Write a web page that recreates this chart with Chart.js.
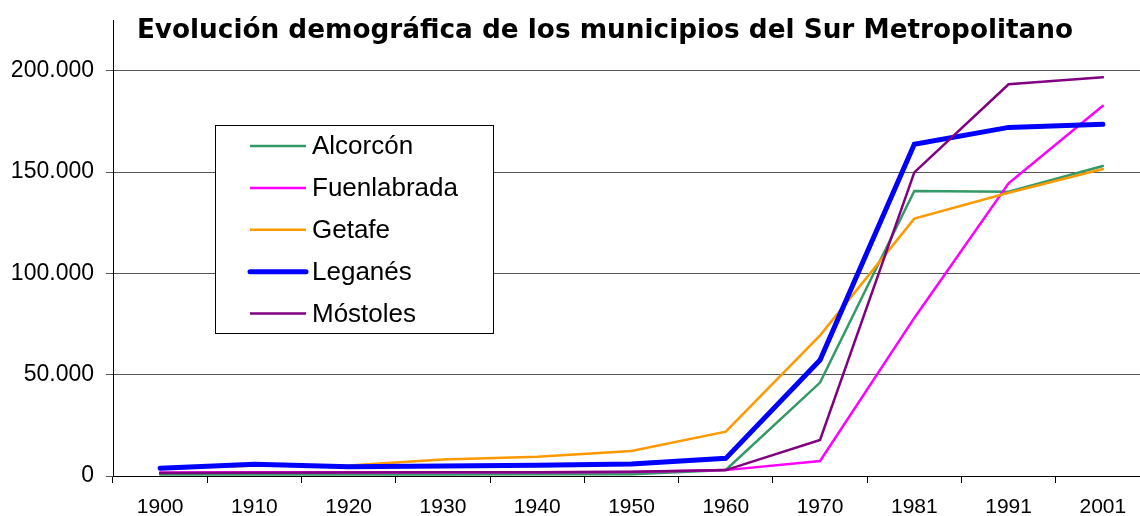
<!DOCTYPE html>
<html>
<head>
<meta charset="utf-8">
<script src="https://cdn.jsdelivr.net/npm/chart.js@4/dist/chart.umd.min.js"></script>
<style>
  html, body { margin: 0; padding: 0; background: #fff; overflow: hidden; }
  canvas { display: block; }
</style>
</head>
<body>
<canvas id="myChart" width="1150" height="516"></canvas>
<script>
const chartTitle = 'Evolución demográfica de los municipios del Sur Metropolitano';
const years = ['1900', '1910', '1920', '1930', '1940', '1950', '1960', '1970', '1981', '1991', '2001'];

const alcorcon    = [700, 750, 800, 800, 850, 900, 3000, 46100, 140600, 140300, 153000];
const fuenlabrada = [1700, 1800, 1800, 1900, 1900, 2000, 2900, 7400, 78000, 144400, 182700];
const getafe      = [3800, 5000, 5200, 8200, 9500, 12300, 21900, 69400, 127000, 139800, 151500];
const leganes     = [3800, 5800, 4600, 4900, 5300, 5900, 8700, 57200, 163700, 172000, 173500];
const mostoles    = [1500, 1600, 1700, 1800, 1800, 2100, 2900, 17800, 149800, 193300, 196700];

const yTicks = [0, 50000, 100000, 150000, 200000];
const yMax = 225000;

function fmt(v) {
    return String(v).replace(/\B(?=(\d{3})+(?!\d))/g, '.');
}

// title is drawn over the plot area, like the original
const titlePlugin = {
    id: 'overTitle',
    afterDraw(chart) {
        const ctx = chart.ctx;
        ctx.save();
        ctx.font = 'bold 26.3px "DejaVu Sans"';
        ctx.fillStyle = '#000';
        ctx.textAlign = 'center';
        ctx.textBaseline = 'alphabetic';
        ctx.fillText(chartTitle, 605, 38);
        ctx.restore();
    }
};

// boxed legend inside the plot area
const boxLegend = {
    id: 'boxLegend',
    afterDraw(chart) {
        const ctx = chart.ctx;
        const a = chart.chartArea;
        const x = a.left + 102, y = a.top + 105, w = 278, h = 208;
        ctx.save();
        ctx.fillStyle = '#fff';
        ctx.fillRect(x, y, w, h);
        ctx.strokeStyle = '#000';
        ctx.lineWidth = 1;
        ctx.strokeRect(x + 0.5, y + 0.5, w, h);
        ctx.font = '26px "Liberation Sans"';
        ctx.textBaseline = 'middle';
        ctx.fillStyle = '#000';
        chart.data.datasets.forEach((ds, i) => {
            const cy = y + 21 + i * 41.9;
            ctx.strokeStyle = ds.borderColor;
            ctx.lineWidth = ds.borderWidth;
            ctx.lineCap = ds.borderWidth > 3 ? 'round' : 'butt';
            ctx.beginPath();
            ctx.moveTo(x + 35, cy);
            ctx.lineTo(x + 91, cy);
            ctx.stroke();
            ctx.fillText(ds.label, x + 97, cy + 1);
        });
        ctx.restore();
    }
};

const ctx = document.getElementById('myChart').getContext('2d');
const myChart = new Chart(ctx, {
    type: 'line',
    data: {
        labels: years,
        datasets: [
            { label: 'Alcorcón', data: alcorcon, borderColor: '#339966', borderWidth: 2.5, order: 4 },
            { label: 'Fuenlabrada', data: fuenlabrada, borderColor: '#FF00FF', borderWidth: 2.5, order: 3 },
            { label: 'Getafe', data: getafe, borderColor: '#FF9900', borderWidth: 2.5, order: 2 },
            { label: 'Leganés', data: leganes, borderColor: '#0000FF', borderWidth: 5, order: 1 },
            { label: 'Móstoles', data: mostoles, borderColor: '#800080', borderWidth: 2.5, order: 0 }
        ]
    },
    options: {
        responsive: false,
        animation: false,
        layout: { padding: { top: 20, left: 0, right: 0, bottom: 0 } },
        elements: {
            point: { radius: 0, hoverRadius: 0 },
            line: { tension: 0, borderCapStyle: 'round', borderJoinStyle: 'miter', fill: false }
        },
        plugins: {
            legend: { display: false },
            title: { display: false },
            tooltip: { enabled: false }
        },
        scales: {
            x: {
                type: 'category',
                offset: true,
                afterFit(scale) { scale.height = 40; },
                grid: {
                    offset: true,
                    drawOnChartArea: false,
                    drawTicks: true,
                    tickLength: 7,
                    color: '#000',
                    lineWidth: 1
                },
                border: { color: '#000', width: 1 },
                ticks: {
                    color: '#000',
                    padding: 12,
                    maxRotation: 0,
                    autoSkip: false,
                    font: { family: 'Liberation Sans', size: 21 }
                }
            },
            y: {
                type: 'linear',
                min: 0,
                max: yMax,
                afterFit(scale) {
                    scale.width = 113;
                    scale.paddingTop = 0;
                    scale.paddingBottom = 0;
                },
                afterBuildTicks(scale) {
                    scale.ticks = yTicks.map(v => ({ value: v }));
                },
                grid: {
                    color: '#555',
                    lineWidth: 1,
                    tickLength: 7
                },
                border: { color: '#000', width: 1 },
                ticks: {
                    color: '#000',
                    padding: 12,
                    autoSkip: false,
                    font: { family: 'Liberation Sans', size: 23 },
                    callback: (v) => fmt(v)
                }
            }
        }
    },
    plugins: [titlePlugin, boxLegend]
});
</script>
</body>
</html>
